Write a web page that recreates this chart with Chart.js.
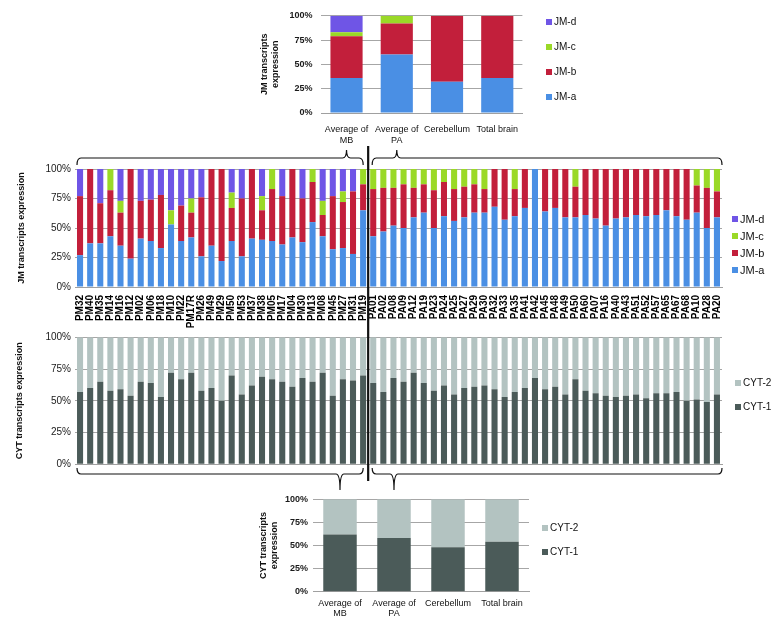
<!DOCTYPE html>
<html>
<head>
<meta charset="utf-8">
<script src="https://cdn.jsdelivr.net/npm/chart.js@4.4.0/dist/chart.umd.min.js"></script>
<style>
  html, body { margin: 0; padding: 0; background: #fff; }
  #wrap { position: relative; width: 775px; height: 628px; overflow: hidden; }
  #wrap canvas { position: absolute; }
</style>
</head>
<body>
<div id="wrap">
  <canvas id="jmSum" width="345" height="150" style="left:240px;top:0px;width:345px;height:150px"></canvas>
  <canvas id="jmAll" width="775" height="197" style="left:0px;top:140px;width:775px;height:197px"></canvas>
  <canvas id="cytAll" width="775" height="150" style="left:0px;top:325px;width:775px;height:150px"></canvas>
  <canvas id="cytSum" width="345" height="143" style="left:240px;top:485px;width:345px;height:143px"></canvas>
  <canvas id="marks" width="775" height="628" style="left:0px;top:0px;width:775px;height:628px"></canvas>
</div>
<script>
// samples
var mbSamples = ['PM32','PM40','PM35','PM14','PM16','PM12','PM02','PM06','PM18','PM10','PM22','PM17R','PM26','PM49','PM29',
                 'PM50','PM53','PM37','PM38','PM05','PM17','PM04','PM30','PM13','PM08','PM45','PM27','PM31','PM19'];
var paSamples = ['PA01','PA02','PA08','PA09','PA12','PA19','PA23','PA24','PA25','PA27','PA29','PA30','PA32','PA33','PA35',
                 'PA41','PA42','PA45','PA48','PA49','PA50','PA60','PA07','PA16','PA40','PA43','PA51','PA52','PA57','PA65',
                 'PA67','PA68','PA10','PA28','PA20'];

// JM transcripts (%), medulloblastoma
var mbJmA = [27,37,37,43,35,24,41,39,33,53,39,42,26,35,22,39,26,41,40,39,36,42,38,55,43,32,33,28,65];
var mbJmB = [50,63,34,39,28,76,32,35,45, 0,30,21,50,65,78,28,49,59,25,44,41,58,37,34,18,45,39,53,22];
var mbJmC = [ 0, 0, 0,18,10, 0, 0, 0, 0,12, 0,12, 0, 0, 0,13, 0, 0,12,17, 0, 0, 0,11,12, 0, 9, 0,13];
var mbJmD = [23, 0,29, 0,27, 0,27,26,22,35,31,25,24, 0, 0,20,25, 0,23, 0,23, 0,25, 0,27,23,19,19, 0];

// JM transcripts (%), pilocytic astrocytoma
var paJmA = [43,47,52,50,59,63,50,60,56,59,63,63,68,57,60,67,100,64,67,59,59,61,58,52,58,59,61,60,61,65,60,57,63,50,59];
var paJmB = [40,37,32,37,25,24,32,29,27,26,24,20,32,43,23,33, 0,36,33,41,26,39,42,48,42,41,39,40,39,35,40,43,23,34,22];
var paJmC = [17,16,16,13,16,13,18,11,17,15,13,17, 0, 0,17, 0, 0, 0, 0, 0,15, 0, 0, 0, 0, 0, 0, 0, 0, 0, 0, 0,14,16,19];
var paJmD = [ 0, 0, 0, 0, 0, 0, 0, 0, 0, 0, 0, 0, 0, 0, 0, 0, 0, 0, 0, 0, 0, 0, 0, 0, 0, 0, 0, 0, 0, 0, 0, 0, 0, 0, 0];

// CYT transcripts (%)
var mbCyt1 = [57,60,65,58,59,54,65,64,53,72,67,72,58,60,50,70,55,62,69,67,65,61,68,65,72,54,67,66,70];
var mbCyt2 = [43,40,35,42,41,46,35,36,47,28,33,28,42,40,50,30,45,38,31,33,35,39,32,35,28,46,33,34,30];
var paCyt1 = [64,57,68,65,72,64,58,62,55,60,61,62,59,53,57,60,68,59,61,55,67,58,56,54,53,54,55,52,56,56,57,50,51,49,55];
var paCyt2 = [36,43,32,35,28,36,42,38,45,40,39,38,41,47,43,40,32,41,39,45,33,42,44,46,47,46,45,48,44,44,43,50,49,51,45];

// summary panels
var groups = [['Average of','MB'], ['Average of','PA'], 'Cerebellum', 'Total brain'];
var sumJmA = [36,60,32,36];
var sumJmB = [43,32,68,64];
var sumJmC = [4,8,0,0];
var sumJmD = [17,0,0,0];
var sumCyt1 = [62,58,48,54];
var sumCyt2 = [38,42,52,46];

var tickValues = [0,25,50,75,100];

var colJm = { a: '#4a8fe4', b: '#c21f3b', c: '#9ad927', d: '#6f55e6' };
var colCyt = { one: '#4b5b59', two: '#b3c3c1' };

// legend drawn beside the plot, top entry = last dataset
var sideLegend = {
  id: 'sideLegend',
  afterDraw: function (chart, args, opts) {
    if (!opts || !opts.x) return;
    var ctx = chart.ctx;
    var ds = chart.data.datasets;
    ctx.save();
    ctx.font = opts.font;
    ctx.textBaseline = 'middle';
    ctx.textAlign = 'left';
    for (var i = ds.length - 1, k = 0; i >= 0; i--, k++) {
      var y = opts.y + k * opts.gap;
      ctx.fillStyle = ds[i].backgroundColor;
      ctx.fillRect(opts.x, y - opts.box / 2, opts.box, opts.box);
      ctx.fillStyle = '#111';
      ctx.fillText(ds[i].label, opts.x + opts.box + 2, y + 0.5);
    }
    ctx.restore();
  }
};

function stacked(id, labels, datasets, o) {
  return new Chart(document.getElementById(id), {
    type: 'bar',
    data: { labels: labels, datasets: datasets },
    plugins: [sideLegend],
    options: {
      responsive: false,
      animation: false,
      events: [],
      layout: { padding: o.pad },
      datasets: { bar: { barPercentage: o.barPct, categoryPercentage: 1 } },
      plugins: {
        legend: { display: false },
        tooltip: { enabled: false },
        sideLegend: o.legend
      },
      scales: {
        x: {
          stacked: true,
          grid: { display: false, drawTicks: false },
          border: { color: '#a0a0a0', width: 1 },
          ticks: o.xticks,
          afterFit: function (s) { s.height = o.xh; }
        },
        y: {
          stacked: true,
          min: 0, max: 100,
          afterBuildTicks: function (s) { s.ticks = tickValues.map(function (v) { return { value: v }; }); },
          ticks: {
            callback: function (v) { return v + '%'; },
            padding: o.ytickPad,
            color: '#1a1a1a',
            font: o.yfont
          },
          grid: { color: '#a6a6a6', lineWidth: 1, drawTicks: false },
          border: { display: false },
          title: {
            display: true,
            text: o.title,
            color: '#111',
            font: { family: 'Liberation Sans, Arial, sans-serif', size: 9, weight: 'bold' },
            padding: { top: o.titlePad, bottom: 0 }
          },
          afterFit: function (s) { s.width = o.yw; }
        }
      }
    }
  });
}

Chart.defaults.font.family = 'Liberation Sans, Arial, sans-serif';

var allSamples = mbSamples.concat(paSamples);

var jmSum = stacked('jmSum', groups, [
  { label: 'JM-a', data: sumJmA, backgroundColor: colJm.a },
  { label: 'JM-b', data: sumJmB, backgroundColor: colJm.b },
  { label: 'JM-c', data: sumJmC, backgroundColor: colJm.c },
  { label: 'JM-d', data: sumJmD, backgroundColor: colJm.d }
], {
  pad: { left: 0, right: 62.6, top: 15.7, bottom: 0 },
  yw: 81.4, xh: 37, barPct: 0.64, ytickPad: 9,
  yfont: { size: 9, weight: 'bold' },
  title: ['JM transcripts', 'expression'], titlePad: 19.6,
  xticks: { color: '#111', padding: 11.6, font: { size: 9 }, maxRotation: 0, autoSkip: false },
  legend: { x: 306, y: 22, gap: 25, box: 6, font: '10px Liberation Sans, Arial, sans-serif' }
});

var jmAll = stacked('jmAll', allSamples, [
  { label: 'JM-a', data: mbJmA.concat(paJmA), backgroundColor: colJm.a },
  { label: 'JM-b', data: mbJmB.concat(paJmB), backgroundColor: colJm.b },
  { label: 'JM-c', data: mbJmC.concat(paJmC), backgroundColor: colJm.c },
  { label: 'JM-d', data: mbJmD.concat(paJmD), backgroundColor: colJm.d }
], {
  pad: { left: 0, right: 53, top: 29, bottom: 0 },
  yw: 75, xh: 50, barPct: 0.6, ytickPad: 4,
  yfont: { size: 10 },
  title: 'JM transcripts expression', titlePad: 16.6,
  xticks: { color: '#000', padding: 8, font: { size: 10, weight: 'bold' }, minRotation: 90, maxRotation: 90, autoSkip: false },
  legend: { x: 732, y: 79, gap: 17, box: 6, font: '11px Liberation Sans, Arial, sans-serif' }
});

var cytAll = stacked('cytAll', allSamples, [
  { label: 'CYT-1', data: mbCyt1.concat(paCyt1), backgroundColor: colCyt.one },
  { label: 'CYT-2', data: mbCyt2.concat(paCyt2), backgroundColor: colCyt.two }
], {
  pad: { left: 0, right: 53, top: 12.3, bottom: 0 },
  yw: 75, xh: 10.7, barPct: 0.6, ytickPad: 4,
  yfont: { size: 10 },
  title: 'CYT transcripts expression', titlePad: 14.6,
  xticks: { display: false },
  legend: { x: 735, y: 58, gap: 24, box: 6, font: '10px Liberation Sans, Arial, sans-serif' }
});

var cytSum = stacked('cytSum', groups, [
  { label: 'CYT-1', data: sumCyt1, backgroundColor: colCyt.one },
  { label: 'CYT-2', data: sumCyt2, backgroundColor: colCyt.two }
], {
  pad: { left: 0, right: 56, top: 14.3, bottom: 0 },
  yw: 73, xh: 36.3, barPct: 0.62, ytickPad: 5,
  yfont: { size: 9, weight: 'bold' },
  title: ['CYT transcripts', 'expression'], titlePad: 18.6,
  xticks: { color: '#111', padding: 6, font: { size: 9 }, maxRotation: 0, autoSkip: false },
  legend: { x: 302, y: 43, gap: 24, box: 6, font: '10px Liberation Sans, Arial, sans-serif' }
});

// group brackets and the MB / PA divider
var mk = document.getElementById('marks').getContext('2d');
var xs = jmAll.scales.x;
var cut = (xs.getPixelForValue(mbSamples.length - 1) + xs.getPixelForValue(mbSamples.length)) / 2;
var left = jmAll.chartArea.left + 2, right = jmAll.chartArea.right;

function brace(x1, x2, y, tipX, h, tip) {
  var r = 4;
  mk.beginPath();
  mk.moveTo(x1, y + h);
  mk.quadraticCurveTo(x1, y, x1 + r, y);
  mk.lineTo(tipX - r, y);
  mk.quadraticCurveTo(tipX, y, tipX, y - tip);
  mk.moveTo(tipX, y - tip);
  mk.quadraticCurveTo(tipX, y, tipX + r, y);
  mk.lineTo(x2 - r, y);
  mk.quadraticCurveTo(x2, y, x2, y + h);
  mk.stroke();
}

mk.strokeStyle = '#111';
mk.lineWidth = 1.2;
brace(left, cut - 5, 158, jmSum.scales.x.getPixelForValue(0) + 240, 7, 8);
brace(cut + 4, right, 158, jmSum.scales.x.getPixelForValue(1) + 240, 7, 8);
brace(left, cut - 5, 474, cytSum.scales.x.getPixelForValue(0) + 240, -6, -16);
brace(cut + 4, right, 474, cytSum.scales.x.getPixelForValue(1) + 240, -6, -16);

mk.lineWidth = 2.2;
mk.beginPath();
mk.moveTo(cut, 146);
mk.lineTo(cut, 481);
mk.stroke();
</script>
</body>
</html>
